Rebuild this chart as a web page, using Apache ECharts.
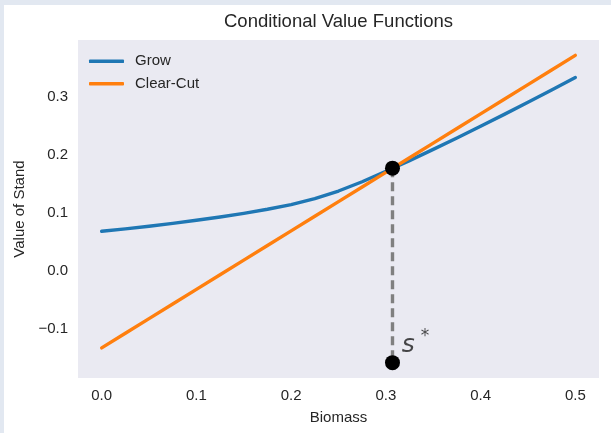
<!DOCTYPE html>
<html>
<head>
<meta charset="utf-8">
<script src="https://cdn.jsdelivr.net/npm/echarts@6/dist/echarts.min.js"></script>
<style>
  html, body { margin: 0; padding: 0; background: #ffffff; }
  #wrap { position: relative; width: 611px; height: 433px; overflow: hidden; }
  #bt { position: absolute; left: 0; top: 0; width: 611px; height: 5px; background: #e2e8f1; }
  #bl { position: absolute; left: 0; top: 0; width: 4px; height: 433px; background: #e2e8f1; }
  #chart { position: absolute; left: 0; top: 0; width: 611px; height: 433px; }
</style>
</head>
<body>
<div id="wrap">
  <div id="bt"></div>
  <div id="bl"></div>
  <div id="chart"></div>
</div>
<script>
// ---- data ----
const biomass = [0, 0.025, 0.05, 0.075, 0.1, 0.125, 0.15, 0.175, 0.2, 0.225, 0.25,
                 0.275, 0.3, 0.325, 0.35, 0.375, 0.4, 0.425, 0.45, 0.475, 0.5];
const growValues = [0.0686, 0.0728, 0.0773, 0.0822, 0.0875, 0.0932, 0.0995, 0.1065, 0.1145, 0.1250, 0.1380,
                    0.1540, 0.1720, 0.1905, 0.2098, 0.2295, 0.2497, 0.2702, 0.2910, 0.3122, 0.3337];
const clearCutValues = [-0.1326, -0.1074, -0.0821, -0.0569, -0.0317, -0.0065, 0.0188, 0.0440, 0.0692, 0.0945, 0.1197,
                        0.1449, 0.1702, 0.1954, 0.2206, 0.2459, 0.2711, 0.2963, 0.3215, 0.3468, 0.3720];
const sStar = 0.307;
const sStarValue = 0.1775;
const sStarBase = -0.158;
const sLabelPos = [0.3168, -0.1245];
const xTicks = [0.0, 0.1, 0.2, 0.3, 0.4, 0.5];
const yTicks = [-0.1, 0.0, 0.1, 0.2, 0.3];
const xLimits = [-0.025, 0.525];
const yLimits = [-0.1845, 0.3985];

const textColor = '#262626';
const font = '"Liberation Sans", Arial, sans-serif';
const fmt = v => { const s = Math.abs(v).toFixed(1); return (v < -1e-9 ? '\u2212' : '') + s; };

const chart = echarts.init(document.getElementById('chart'), null, { renderer: 'canvas' });
chart.setOption({
  animation: false,
  backgroundColor: 'transparent',
  title: {
    text: 'Conditional Value Functions',
    left: 338.5, textAlign: 'center', top: 12, padding: 0,
    textStyle: { fontFamily: font, fontSize: 18.5, fontWeight: 'normal', color: textColor }
  },
  legend: {
    data: ['Grow', 'Clear-Cut'],
    orient: 'vertical', left: 89, top: 53, padding: 0,
    icon: 'roundRect', itemWidth: 35, itemHeight: 3.6, itemGap: 5.8,
    textStyle: { fontFamily: font, fontSize: 15, color: textColor, padding: [0, 0, 0, 6], lineHeight: 16.6 }
  },
  grid: { left: 78, right: 12, top: 40, bottom: 55, show: true, backgroundColor: '#eaeaf2', borderWidth: 0 },
  xAxis: {
    type: 'value', min: xLimits[0], max: xLimits[1],
    name: 'Biomass', nameLocation: 'middle', nameGap: 32,
    nameTextStyle: { fontFamily: font, fontSize: 15, color: textColor },
    axisLine: { show: false }, axisTick: { show: false }, splitLine: { show: false },
    axisLabel: { customValues: xTicks, formatter: fmt, fontFamily: font, fontSize: 15, color: textColor, margin: 10 }
  },
  yAxis: {
    type: 'value', min: yLimits[0], max: yLimits[1],
    name: 'Value of Stand', nameLocation: 'middle', nameGap: 49,
    nameTextStyle: { fontFamily: font, fontSize: 15, color: textColor },
    axisLine: { show: false }, axisTick: { show: false }, splitLine: { show: false },
    axisLabel: { customValues: yTicks, formatter: fmt, fontFamily: font, fontSize: 15, color: textColor, margin: 10 }
  },
  series: [
    {
      name: 'Grow', type: 'line', symbol: 'none', z: 2,
      data: biomass.map((x, i) => [x, growValues[i]]),
      lineStyle: { color: '#1f77b4', width: 3.4, cap: 'round', join: 'round' },
      itemStyle: { color: '#1f77b4' }
    },
    {
      name: 'Clear-Cut', type: 'line', symbol: 'none', z: 3,
      data: biomass.map((x, i) => [x, clearCutValues[i]]),
      lineStyle: { color: '#ff7f0e', width: 3.4, cap: 'round', join: 'round' },
      itemStyle: { color: '#ff7f0e' }
    },
    {
      name: 'vline', type: 'line', symbol: 'none', z: 4,
      data: [[sStar, sStarValue], [sStar, sStarBase]],
      lineStyle: { color: '#808080', width: 3.4, type: [9, 5] }
    },
    {
      name: 'points', type: 'scatter', symbolSize: 15, z: 5,
      data: [[sStar, sStarValue], [sStar, sStarBase]],
      itemStyle: { color: '#000000', opacity: 1 }
    },
    {
      name: 'label', type: 'scatter', symbolSize: 0, z: 6, silent: true,
      data: [sLabelPos],
      label: {
        show: true, position: 'right', distance: 0,
        formatter: '{s|s}{sup|*}',
        rich: {
          s: { fontFamily: 'DejaVu Sans', fontStyle: 'italic', fontSize: 25, lineHeight: 30, color: '#1a1a1a', verticalAlign: 'bottom' },
          sup: { fontFamily: 'DejaVu Sans', fontSize: 17, color: '#1a1a1a', verticalAlign: 'top', padding: [0, 0, 0, 6] }
        }
      }
    }
  ]
});
</script>
</body>
</html>
